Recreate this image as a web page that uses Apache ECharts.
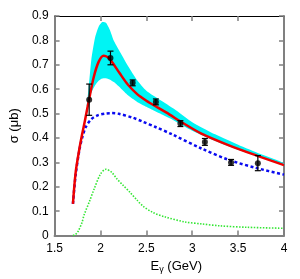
<!DOCTYPE html>
<html><head><meta charset="utf-8">
<script src="https://cdn.jsdelivr.net/npm/echarts@6/dist/echarts.min.js"></script>
<style>html,body{margin:0;padding:0;background:#fff}#c{width:300px;height:279px}</style>
</head><body><div id="c"></div>
<script>
// Data
var xTicks = [1.5, 2, 2.5, 3, 3.5, 4];
var yTicks = [0, 0.1, 0.2, 0.3, 0.4, 0.5, 0.6, 0.7, 0.8, 0.9];

var expX   = [1.877, 2.109, 2.351, 2.604, 2.871, 3.138, 3.423, 3.715];
var expY   = [0.557, 0.728, 0.626, 0.548, 0.459, 0.384, 0.300, 0.297];
var expErr = [0.064, 0.028, 0.012, 0.012, 0.012, 0.014, 0.012, 0.031];

var redX = [1.70, 1.73, 1.77, 1.80, 1.83, 1.874, 1.927, 1.98, 2.034, 2.08, 2.12, 2.21, 2.30, 2.40, 2.50, 2.60, 2.75, 2.87, 3.10, 3.40, 3.71, 4.00];
var redY = [0.13, 0.26, 0.355, 0.415, 0.47, 0.555, 0.65, 0.712, 0.737, 0.731, 0.715, 0.665, 0.618, 0.58, 0.553, 0.53, 0.497, 0.468, 0.418, 0.37, 0.327, 0.289];

var blueX = [1.70, 1.73, 1.77, 1.80, 1.84, 1.90, 1.97, 2.05, 2.12, 2.20, 2.355, 2.46, 2.60, 2.78, 3.10, 3.40, 3.71, 4.00];
var blueY = [0.13, 0.25, 0.35, 0.40, 0.445, 0.477, 0.493, 0.500, 0.502, 0.499, 0.483, 0.467, 0.445, 0.415, 0.357, 0.31, 0.276, 0.25];

var greenX = [1.70, 1.73, 1.76, 1.80, 1.82, 1.88, 1.93, 2.00, 2.06, 2.12, 2.18, 2.25, 2.32, 2.40, 2.46, 2.57, 2.70, 2.92, 3.10, 3.30, 3.60, 4.00];
var greenY = [0.0, 0.005, 0.02, 0.055, 0.083, 0.14, 0.19, 0.252, 0.272, 0.26, 0.232, 0.205, 0.178, 0.145, 0.122, 0.095, 0.077, 0.056, 0.048, 0.04, 0.034, 0.03];

var bandX  = [1.85, 1.87, 1.90, 1.94, 1.98, 2.02, 2.06, 2.10, 2.15, 2.22, 2.30, 2.40, 2.50, 2.65, 2.80, 3.00, 3.25, 3.50, 3.75, 4.00];
var bandUp = [0.53, 0.60, 0.72, 0.81, 0.856, 0.875, 0.872, 0.845, 0.795, 0.748, 0.695, 0.637, 0.594, 0.556, 0.52, 0.465, 0.415, 0.372, 0.333, 0.297];
var bandLo = [0.53, 0.552, 0.585, 0.615, 0.635, 0.644, 0.645, 0.64, 0.628, 0.604, 0.575, 0.548, 0.528, 0.50, 0.472, 0.43, 0.388, 0.352, 0.32, 0.288];

function pairs(xs, ys) { return xs.map(function (x, i) { return [x, ys[i]]; }); }

var chart = echarts.init(document.getElementById('c'), null, {renderer: 'canvas'});
var FONT = 'Liberation Sans';
var gray = '#808080';

// closed outline: upper edge left->right, lower edge right->left (skip shared start point)
var bandPts = pairs(bandX, bandUp).concat(pairs(bandX, bandLo).slice(1).reverse());

function xAxisBase(pos) {
  return {
    type: 'value', min: xTicks[0], max: xTicks[xTicks.length - 1], interval: 0.5, position: pos,
    splitLine: {show: false},
    axisLine: {show: true, onZero: false, lineStyle: {color: pos === 'top' ? '#000' : gray, width: pos === 'top' ? 1 : 2}},
    axisTick: {show: true, inside: true, length: 5, lineStyle: {color: gray, width: 1.5}},
    axisLabel: {show: pos === 'bottom', color: '#000', fontSize: 12, fontFamily: FONT, margin: 7,
      formatter: function (v) { return String(+v.toFixed(1)); }}
  };
}
function yAxisBase(pos) {
  return {
    type: 'value', min: yTicks[0], max: yTicks[yTicks.length - 1], interval: 0.1, position: pos,
    splitLine: {show: false},
    axisLine: {show: true, onZero: false, lineStyle: {color: gray, width: 2}},
    axisTick: {show: true, inside: true, length: 5, lineStyle: {color: gray, width: 1.5}},
    axisLabel: {show: pos === 'left', color: '#000', fontSize: 12, fontFamily: FONT, margin: 6,
      formatter: function (v) { return String(+v.toFixed(1)); }}
  };
}

var xb = xAxisBase('bottom');
xb.name = 'E{sub|γ} (GeV)';
xb.nameLocation = 'middle';
xb.nameGap = 17;
xb.nameTextStyle = {color: '#000', fontSize: 13, fontFamily: FONT, padding: [0, 0, 0, 14],
  rich: {sub: {fontSize: 9, fontFamily: FONT, color: '#000', verticalAlign: 'bottom', padding: [7, 0, 0, 0]}}};
var yl = yAxisBase('left');
yl.name = 'σ (μb)';
yl.nameLocation = 'middle';
yl.nameGap = 28;
yl.nameTextStyle = {color: '#000', fontSize: 13, fontFamily: FONT};

chart.setOption({
  animation: false,
  grid: {left: 50, right: 16, top: 16, bottom: 42},
  xAxis: [xb, xAxisBase('top')],
  yAxis: [yl, yAxisBase('right')],
  series: [
    {
      type: 'custom', z: 1, silent: true,
      data: [0],
      renderItem: function (params, api) {
        var pts = bandPts.map(function (p) { return api.coord(p); });
        return {type: 'polygon', shape: {points: pts, smooth: 0.2}, style: {fill: '#00f4f4'}};
      }
    },
    {type: 'line', z: 3, data: pairs(greenX, greenY), smooth: 0.3, showSymbol: false,
      lineStyle: {color: '#33e633', width: 1.6, type: [1.5, 1.5]}},
    {type: 'line', z: 4, data: pairs(blueX, blueY), smooth: 0.3, showSymbol: false,
      lineStyle: {color: '#0a0af0', width: 2.5, type: [3, 2.5]}},
    {type: 'line', z: 5, data: pairs(redX, redY), smooth: 0.3, showSymbol: false,
      lineStyle: {color: '#ee0000', width: 2.5}},
    {
      type: 'custom', z: 6, silent: true,
      data: expX.map(function (x, i) { return [x, expY[i], expErr[i]]; }),
      renderItem: function (params, api) {
        var x = api.value(0), y = api.value(1), e = api.value(2);
        var hi = api.coord([x, y + e]), lo = api.coord([x, y - e]);
        var cw = 3;
        var st = {stroke: '#000', lineWidth: 1.2};
        return {type: 'group', children: [
          {type: 'line', shape: {x1: hi[0], y1: hi[1], x2: lo[0], y2: lo[1]}, style: st},
          {type: 'line', shape: {x1: hi[0] - cw, y1: hi[1], x2: hi[0] + cw, y2: hi[1]}, style: st},
          {type: 'line', shape: {x1: lo[0] - cw, y1: lo[1], x2: lo[0] + cw, y2: lo[1]}, style: st}
        ]};
      }
    },
    {type: 'scatter', z: 7, data: pairs(expX, expY), symbol: 'circle', symbolSize: 6,
      itemStyle: {color: '#000'}}
  ]
});
</script></body></html>
